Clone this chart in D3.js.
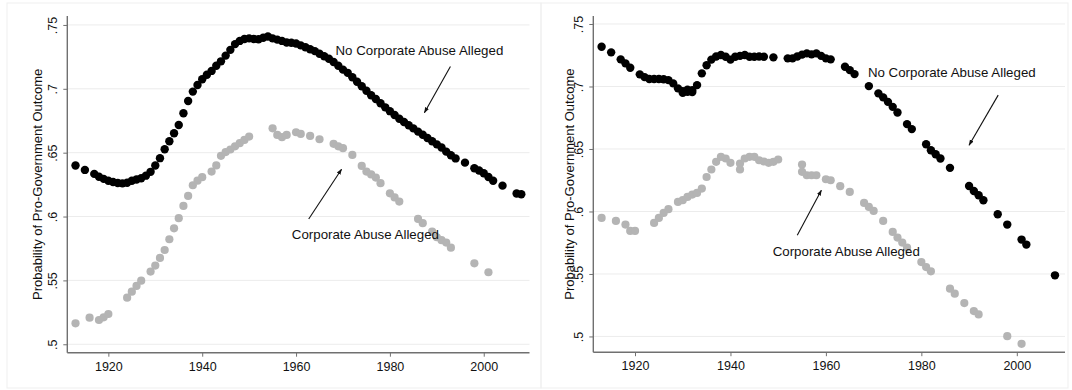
<!DOCTYPE html>
<html lang="en">
<head>
  <meta charset="UTF-8">
  <title>Probability of Pro-Government Outcome</title>
  <script src="https://d3js.org/d3.v7.min.js"></script>
  <style>
    body {
      margin: 0;
      background: #fff;
    }
    svg {
      display: block;
    }
    text {
      font-family: "Liberation Sans", Arial, Helvetica, sans-serif;
      fill: #111;
    }
  </style>
</head>
<body>
  <svg width="1072" height="390"></svg>

  <script>
    // tick values and labels (Stata style, no leading zero)
    const yTicks = [0.5, 0.55, 0.6, 0.65, 0.7, 0.75];
    const yTickLabels = [".5", ".55", ".6", ".65", ".7", ".75"];
    const xTicks = [1920, 1940, 1960, 1980, 2000];
    const yTitle = "Probability of Pro-Government Outcome";
    const labelNoAbuse = "No Corporate Abuse Alleged";
    const labelAbuse = "Corporate Abuse Alleged";

    // left panel, [year, probability]
    const leftNoAbuse = [
      [1913, .640], [1915, .6365], [1917, .6334], [1918, .6312], [1919, .6295], [1920, .628],
      [1921, .627], [1922, .6262], [1923, .626], [1924, .6265], [1925, .628], [1926, .629],
      [1927, .630], [1928, .632], [1929, .635], [1930, .640], [1931, .6457], [1932, .6527],
      [1933, .659], [1934, .6652], [1935, .6717], [1936, .6809], [1937, .6905], [1938, .6978],
      [1939, .703], [1940, .7075], [1941, .711], [1942, .714], [1943, .718], [1944, .7215],
      [1945, .726], [1946, .7305], [1947, .735], [1948, .7375], [1949, .739], [1950, .7395],
      [1951, .739], [1952, .7388], [1953, .740], [1954, .7409], [1955, .7395], [1956, .7385],
      [1957, .7375], [1958, .7362], [1959, .736], [1960, .7355], [1961, .734], [1962, .7325],
      [1963, .731], [1964, .7295], [1965, .7275], [1966, .7255], [1967, .7235], [1968, .721],
      [1969, .718], [1970, .715], [1971, .7125], [1972, .709], [1973, .7055], [1974, .702],
      [1975, .6985], [1976, .695], [1977, .692], [1978, .6887], [1979, .6855], [1980, .6825],
      [1981, .6795], [1982, .6765], [1983, .674], [1984, .6715], [1985, .669], [1986, .6665],
      [1987, .664], [1988, .6615], [1989, .659], [1990, .6565], [1991, .654], [1992, .6508],
      [1993, .648], [1994, .6455], [1996, .6422], [1998, .6378], [1999, .636], [2000, .6339],
      [2001, .631], [2002, .628], [2004, .6242], [2007, .618], [2008, .6175]
    ];
    const leftAbuse = [
      [1913, .5164], [1916, .5208], [1918, .519], [1919, .5211], [1920, .5237], [1924, .5365],
      [1925, .5412], [1926, .5457], [1927, .5498], [1929, .5569], [1930, .5616], [1931, .5676],
      [1932, .5738], [1933, .5822], [1934, .5908], [1935, .5987], [1936, .6083], [1937, .6161],
      [1938, .6245], [1939, .6281], [1940, .6308], [1942, .6352], [1943, .640], [1944, .6475],
      [1945, .6505], [1946, .6525], [1947, .655], [1948, .6574], [1949, .660], [1950, .6626],
      [1955, .6691], [1956, .6639], [1957, .6621], [1958, .6639], [1960, .666], [1961, .6647],
      [1963, .6631], [1965, .6605], [1968, .6569], [1969, .655], [1970, .6535], [1972, .6482],
      [1974, .6396], [1975, .6352], [1976, .633], [1977, .6305], [1978, .6261], [1980, .6182],
      [1981, .615], [1982, .6117], [1986, .5981], [1987, .5948], [1989, .5882], [1990, .5838],
      [1991, .5815], [1992, .5796], [1993, .5756], [1998, .5634], [2001, .5564]
    ];

    // right panel, [year, probability]
    const rightNoAbuse = [
      [1913, .7318], [1915, .7273], [1917, .7217], [1918, .7185], [1919, .715], [1921, .7097],
      [1922, .7075], [1923, .706], [1924, .706], [1925, .706], [1926, .7058], [1927, .7051],
      [1928, .7025], [1929, .6985], [1930, .6963], [1930, .695], [1931, .6958], [1931, .6975],
      [1932, .6971], [1932, .6955], [1933, .7011], [1934, .7105], [1935, .717], [1936, .7215],
      [1937, .724], [1938, .7252], [1939, .7238], [1940, .7215], [1941, .7238], [1942, .7245],
      [1943, .7252], [1944, .7238], [1945, .7238], [1946, .724], [1947, .7238], [1949, .7233],
      [1952, .7225], [1953, .7225], [1954, .724], [1955, .7255], [1956, .7265], [1957, .7257],
      [1958, .7265], [1959, .7245], [1960, .7225], [1961, .7217], [1964, .7158], [1965, .7131],
      [1966, .7099], [1969, .7003], [1971, .6945], [1972, .6913], [1973, .6877], [1974, .6837],
      [1975, .6792], [1977, .6699], [1978, .6659], [1981, .6538], [1982, .649], [1983, .6458],
      [1984, .6424], [1986, .6349], [1990, .6204], [1991, .6164], [1992, .613], [1993, .609],
      [1996, .5978], [1998, .5895], [2001, .5775], [2002, .5735], [2008, .5489]
    ];
    const rightAbuse = [
      [1913, .5948], [1916, .5924], [1918, .5895], [1919, .5844], [1920, .5844], [1924, .5908],
      [1925, .5948], [1926, .5988], [1927, .6018], [1929, .6076], [1930, .609], [1931, .6116],
      [1932, .6135], [1933, .6148], [1934, .6183], [1935, .6276], [1936, .6336], [1937, .6397],
      [1938, .6437], [1939, .6424], [1940, .6389], [1942, .6336], [1942, .6384], [1943, .6424],
      [1944, .6437], [1945, .6437], [1946, .641], [1947, .640], [1948, .6389], [1949, .6397],
      [1950, .6416], [1955, .6376], [1955, .6317], [1956, .629], [1957, .629], [1958, .629],
      [1960, .6258], [1961, .625], [1963, .6202], [1965, .6156], [1968, .6068], [1969, .6036],
      [1970, .6004], [1972, .5924], [1974, .5836], [1975, .5791], [1976, .5751], [1977, .5711],
      [1980, .5595], [1981, .5555], [1982, .5521], [1986, .5382], [1987, .5342], [1989, .5267],
      [1991, .5203], [1992, .5176], [1998, .5002], [2001, .4941]
    ];

    // annotation anchors in data units: label start, arrow from, arrow to
    const leftNotes = [
      { text: labelNoAbuse, at: [1968.4, .7265], from: [1992.9, .7174], to: [1987.35, .6813] },
      { text: labelAbuse, at: [1959.1, .5828], from: [1962.7, .5981], to: [1969.7, .637] }
    ];
    const rightNotes = [
      { text: labelNoAbuse, at: [1968.8, .7075], from: [1996.1, .6931], to: [1990.0, .653] },
      { text: labelAbuse, at: [1948.85, .5641], from: [1954.0, .5809], to: [1959.05, .617] }
    ];

    const svg = d3.select("svg");

    svg.append("defs").append("marker")
      .attr("id", "head")
      .attr("viewBox", "0 0 10 10")
      .attr("refX", 9)
      .attr("refY", 5)
      .attr("markerWidth", 6)
      .attr("markerHeight", 6)
      .attr("markerUnits", "userSpaceOnUse")
      .attr("orient", "auto")
      .append("path")
      .attr("d", "M0,1.5 L10,5 L0,8.5 Z")
      .attr("fill", "#111");

    const panels = [
      {
        frame: [7, 3, 534, 385],
        xDomain: [1911.25, 2009.75], xRange: [67.3, 529.5],
        yDomain: [0.4934, 0.757], yRange: [352.7, 16],
        titleX: 37,
        black: leftNoAbuse, gray: leftAbuse, notes: leftNotes
      },
      {
        frame: [541, 3, 527, 385],
        xDomain: [1911.26, 2010.1], xRange: [593.3, 1065],
        yDomain: [0.4874, 0.7564], yRange: [352.2, 16],
        titleX: 569,
        black: rightNoAbuse, gray: rightAbuse, notes: rightNotes
      }
    ];

    panels.forEach(p => {
      const x = d3.scaleLinear().domain(p.xDomain).range(p.xRange);
      const y = d3.scaleLinear().domain(p.yDomain).range(p.yRange);
      const g = svg.append("g");
      const [x0, x1] = p.xRange;
      const [yb, yt] = p.yRange;

      // faint graph region border
      g.append("rect")
        .attr("x", p.frame[0]).attr("y", p.frame[1])
        .attr("width", p.frame[2]).attr("height", p.frame[3])
        .attr("fill", "none")
        .attr("stroke", "#efefef");

      // gridlines
      g.append("g")
        .selectAll("line")
        .data(yTicks)
        .enter().append("line")
        .attr("x1", x0).attr("x2", x1)
        .attr("y1", d => y(d)).attr("y2", d => y(d))
        .attr("stroke", "#ececec")
        .attr("stroke-width", 1);

      // y axis
      const yAxis = g.append("g")
        .attr("transform", `translate(${x0},0)`)
        .call(d3.axisLeft(y).tickValues(yTicks).tickSize(4).tickPadding(0)
          .tickFormat((d, i) => yTickLabels[i]));
      yAxis.select(".domain").attr("d", `M0,${yt}V${yb}`);
      yAxis.selectAll("text")
        .attr("x", null).attr("dy", null)
        .attr("text-anchor", "middle")
        .attr("transform", "translate(-10,0) rotate(-90)")
        .attr("font-size", 12.5)
        .attr("fill", "#111");

      // x axis
      const xAxis = g.append("g")
        .attr("transform", `translate(0,${yb})`)
        .call(d3.axisBottom(x).tickValues(xTicks).tickSize(4).tickPadding(5)
          .tickFormat(d3.format("d")));
      xAxis.select(".domain").attr("d", `M${x0},0H${x1}`);
      xAxis.selectAll("text")
        .attr("font-size", 12.5)
        .attr("fill", "#111");

      [yAxis, xAxis].forEach(a => {
        a.select(".domain").attr("stroke", "#707070").attr("stroke-width", 1.4);
        a.selectAll(".tick line").attr("stroke", "#707070");
        a.attr("font-family", null);
      });

      // y title
      g.append("text")
        .attr("transform", `translate(${p.titleX},${(yt + yb) / 2}) rotate(-90)`)
        .attr("text-anchor", "middle")
        .attr("dy", "0.35em")
        .attr("font-size", 13)
        .text(yTitle);

      // points
      g.append("g")
        .selectAll("circle")
        .data(p.gray)
        .enter().append("circle")
        .attr("cx", d => x(d[0]))
        .attr("cy", d => y(d[1]))
        .attr("r", 4.1)
        .attr("fill", "#b4b4b4");

      g.append("g")
        .selectAll("circle")
        .data(p.black)
        .enter().append("circle")
        .attr("cx", d => x(d[0]))
        .attr("cy", d => y(d[1]))
        .attr("r", 4.2)
        .attr("fill", "#000");

      // annotations
      p.notes.forEach(n => {
        g.append("text")
          .attr("x", x(n.at[0]))
          .attr("y", y(n.at[1]))
          .attr("font-size", 13.3)
          .text(n.text);
        g.append("line")
          .attr("x1", x(n.from[0])).attr("y1", y(n.from[1]))
          .attr("x2", x(n.to[0])).attr("y2", y(n.to[1]))
          .attr("stroke", "#111")
          .attr("stroke-width", 1.1)
          .attr("marker-end", "url(#head)");
      });
    });
  </script>
</body>
</html>
